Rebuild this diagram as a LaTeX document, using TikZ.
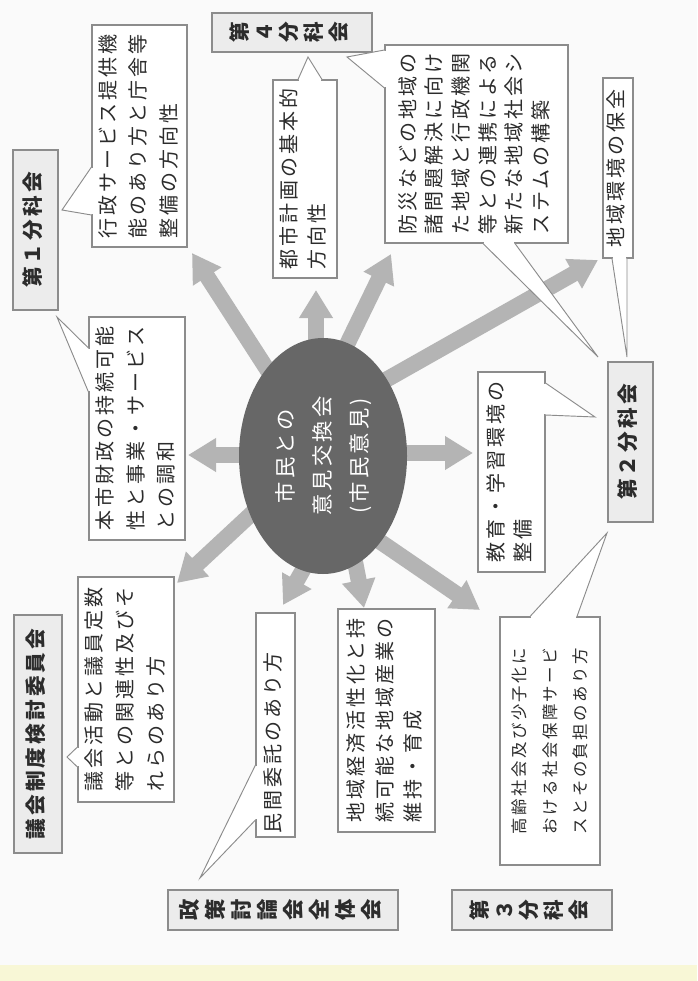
\documentclass[tikz,border=0pt]{standalone}
\usepackage{fontspec}
\setmainfont{Noto Sans CJK JP}[LetterSpace=15]
\usepackage{graphicx}
\usetikzlibrary{shapes.geometric,arrows.meta}
\pgfdeclarelayer{bg}\pgfdeclarelayer{arr}\pgfsetlayers{bg,arr,main}
\definecolor{bordc}{HTML}{8C8C8C}
\definecolor{lblc}{HTML}{ECECEC}
\definecolor{arrc}{HTML}{B4B4B4}
\definecolor{ellc}{HTML}{676767}
\definecolor{txtc}{HTML}{2C2C2C}
\definecolor{bgc}{HTML}{FAFAFA}
\definecolor{yelc}{HTML}{F8F7D6}
\newcommand\rt[2][l]{\rotatebox{90}{\begin{tabular}{@{}#1@{}}#2\end{tabular}}}
\newcommand\calltail[3]{%
  \draw[white, line width=1.8pt, shorten <=0.8pt, shorten >=0.8pt] (#1) -- (#3);
  \fill[white] (#1) -- (#2) -- (#3) -- cycle;
  \draw[tailc] (#1) -- (#2) -- (#3);}
\begin{document}
\begin{tikzpicture}[x=0.75pt,y=-0.75pt,
  boxat/.style n args={4}{minimum width={(#3-#1)*0.75pt}, minimum height={(#4-#2)*0.75pt},
     at={({(#1+#3)/2},{(#2+#4)/2})}},
  cbox/.style={draw=bordc, line width=0.8pt, fill=white, inner sep=0pt, text=txtc, anchor=center},
  txt/.style={font=\fontsize{15}{#1}\selectfont},
  lbox/.style={cbox, fill=lblc, line width=0.9pt, font=\fontsize{15.5}{18}\selectfont\bfseries},
  tailc/.style={draw=bordc, line width=0.7pt},
  bigarr/.style={draw=arrc, line width=12pt, -{Triangle[width=24pt,length=21pt]}}]
\useasboundingbox (0,0) rectangle (697,981);
\begin{pgfonlayer}{bg}
  \fill[bgc] (0,0) rectangle (697,981);
  \fill[yelc] (0,965) rectangle (697,981);
\end{pgfonlayer}

% label boxes
\node[lbox, boxat={13}{150}{58}{310}] (L1) {\rt{第１分科会}};
\node[lbox, boxat={608}{362}{653}{522}] (L2) {\rt{第２分科会}};
\node[lbox, boxat={14}{615}{62}{853}] (LG) {\rt{議会制度検討委員会}};
\node[lbox, boxat={212}{13}{372}{52}, font=\fontsize{15.5}{18.3}\selectfont\bfseries] (L4) {\rt[c]{第\\４\\分\\科\\会}};
\node[lbox, boxat={452}{890}{612}{930}, font=\fontsize{15.5}{18.2}\selectfont\bfseries] (L3) {\rt[c]{第\\３\\分\\科\\会}};
\node[lbox, boxat={168}{890}{398}{930}, font=\fontsize{16}{19.5}\selectfont\bfseries] (LS) {\rt[c]{政\\策\\討\\論\\会\\全\\体\\会}};

% content boxes
\node[cbox, txt=22.9pt, boxat={92}{25}{187}{247}] (B1) {\rt{行政サービス提供機\\能のあり方と庁舎等\\整備の方向性}};
\node[cbox, txt=21pt, boxat={273}{80}{337}{278}] (B2) {\rt{都市計画の基本的\\方向性}};
\node[cbox, txt=20pt, boxat={385}{45}{568}{243}] (B3) {\rt{防災などの地域の\\諸問題解決に向け\\た地域と行政機関\\等との連携による\\新たな地域社会シ\\ステムの構築}};
\node[cbox, txt=20pt, boxat={603}{78}{633}{258}] (B4) {\rt{地域環境の保全}};
\node[cbox, txt=22.9pt, boxat={89}{317}{185}{540}] (B5) {\rt{本市財政の持続可能\\性と事業・サービス\\との調和}};
\node[cbox, txt=20.25pt, boxat={478}{372}{545}{572}] (B6) {\rt{教育・学習環境の\\整備}};
\node[cbox, txt=23.25pt, boxat={78}{577}{174}{802}] (B7) {\rt{議会活動と議員定数\\等との関連性及びそ\\れらのあり方}};
\node[cbox, txt=20pt, boxat={256}{613}{295}{837}] (B8) {\rt{\makebox[162pt][l]{民間委託のあり方}}};
\node[cbox, txt=21.4pt, boxat={338}{609}{435}{832}] (B9) {\rt{地域経済活性化と持\\続可能な地域産業の\\維持・育成}};
\node[cbox, font=\fontsize{12.3}{22.9}\selectfont, boxat={500}{617}{600}{865}] (B10) {\rt{高齢社会及び少子化に\\おける社会保障サービ\\スとその負担のあり方}};

% callout tails
\coordinate (t1) at (62,210);
\coordinate (t2) at (308,57);
\coordinate (t3) at (347,57);
\coordinate (t4) at (598,357);
\coordinate (t5) at (627,357);
\coordinate (t6) at (57,317);
\coordinate (t7) at (595,417);
\coordinate (t8) at (67,757);
\coordinate (t9) at (200,878);
\coordinate (t10) at (607,533);
\calltail{B1.west |- 0,167}{t1}{B1.west |- 0,215}
\calltail{B2.north -| 298,0}{t2}{B2.north -| 322,0}
\calltail{B3.west |- 0,50}{t3}{B3.west |- 0,88}
\calltail{B3.south -| 483,0}{t4}{B3.south -| 515,0}
\calltail{B4.south -| 612,0}{t5}{B4.south -| 627,0}
\calltail{B5.west |- 0,348}{t6}{B5.west |- 0,392}
\calltail{B6.east |- 0,383}{t7}{B6.east |- 0,415}
\calltail{B7.west |- 0,747}{t8}{B7.west |- 0,767}
\calltail{B8.west |- 0,765}{t9}{B8.west |- 0,820}
\calltail{B10.north -| 530,0}{t10}{B10.north -| 577,0}

% centre ellipse
\coordinate (c) at (323,456);
\node[ellipse, fill=ellc, minimum width=126pt, minimum height=177pt, inner sep=0pt,
      text=white, font=\fontsize{16}{27.75}\selectfont] (core) at (c)
      {\rt[c]{市民との\\意見交換会\\(市民意見)}};

% arrows
\coordinate (s2) at (316,456);
\coordinate (s3) at (320,400);
\coordinate (s4) at (345,403);
\coordinate (s5) at (300,455);
\coordinate (s6) at (350,453);
\coordinate (s7) at (290,478);
\coordinate (s8) at (337,510);
\coordinate (s9) at (345,510);
\coordinate (s10) at (350,521);
\coordinate (a1) at (192,253);
\coordinate (a2) at (316,290);
\coordinate (a3) at (391,254);
\coordinate (a4) at (598,260);
\coordinate (a5) at (188,455);
\coordinate (a6) at (473,453);
\coordinate (a7) at (177,583);
\coordinate (a8) at (283,605);
\coordinate (a9) at (364,608);
\coordinate (a10) at (480,610);
\begin{pgfonlayer}{arr}
  \draw[bigarr] (c) -- (a1);
  \draw[bigarr] (s2) -- (a2);
  \draw[bigarr] (s3) -- (a3);
  \draw[bigarr] (s4) -- (a4);
  \draw[bigarr] (s5) -- (a5);
  \draw[bigarr] (s6) -- (a6);
  \draw[bigarr] (s7) -- (a7);
  \draw[bigarr] (s8) -- (a8);
  \draw[bigarr] (s9) -- (a9);
  \draw[bigarr] (s10) -- (a10);
\end{pgfonlayer}
\end{tikzpicture}
\end{document}
